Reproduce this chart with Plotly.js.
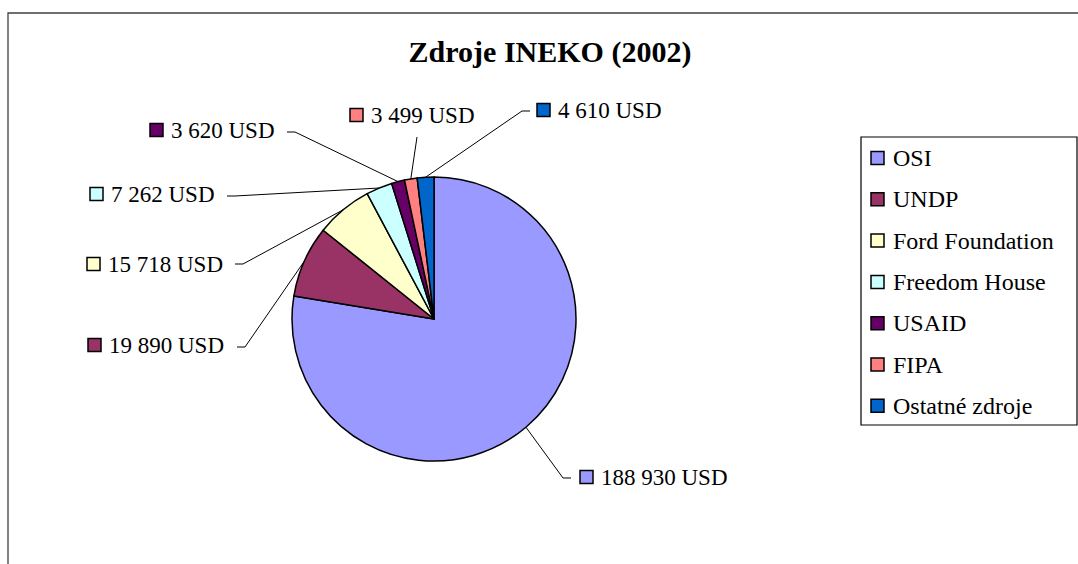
<!DOCTYPE html>
<html><head><meta charset="utf-8">
<script src="https://cdn.plot.ly/plotly-3.0.1.min.js"></script>
<style>html,body{margin:0;padding:0;background:#fff;}#chart{width:1078px;height:564px;}</style>
</head><body><div id="chart"></div>
<script>
// ---- data ----
const categories = ['OSI', 'UNDP', 'Ford Foundation', 'Freedom House', 'USAID', 'FIPA', 'Ostatné zdroje'];
const values = [188930, 19890, 15718, 7262, 3620, 3499, 4610];
const unit = 'USD';
const chartTitle = 'Zdroje INEKO (2002)';

// ---- styles / layout ----
const colors = ['#9999FF', '#993366', '#FFFFCC', '#CCFFFF', '#660066', '#FF8080', '#0066CC'];
const W = 1078, H = 564;
const pieC = [434, 319], pieR = 142;
// label placement (pixel): square left / centre y, leader end point, tick direction
const labelSquare = [[580, 477], [88, 345], [87, 264], [90, 194], [150, 130], [350, 115], [537, 110]];
const leaderEnd = [[563, 478], [245, 347], [243, 264], [235, 196], [295, 132], [417, 137], [522, 111]];
const leaderTick = [8, -8, -8, -8, -8, 0, 8];
const legendBox = [861, 137, 1077, 425];
const legendFirstY = 158, legendStep = 41.3, legendSqX = 871, legendTextX = 891;
const SQ = 13;
const serif = 'Liberation Serif, Times New Roman, serif';

const px = x => x / W;
const py = y => 1 - y / H;
const fmt = v => String(v).replace(/\B(?=(\d{3})+(?!\d))/g, ' ') + ' ' + unit;

const total = values.reduce((a, b) => a + b, 0);
const shapes = [];
const annotations = [];

// outer chart border
shapes.push({type: 'rect', xref: 'paper', yref: 'paper', x0: px(8), x1: px(1100), y0: py(13), y1: py(620),
  line: {color: '#404040', width: 1.3}, fillcolor: 'rgba(0,0,0,0)'});

let cum = 0;
values.forEach((v, i) => {
  const mid = 2 * Math.PI * (cum + v / 2) / total;
  cum += v;
  const ex0 = pieC[0] + pieR * Math.sin(mid);
  const ey0 = pieC[1] - pieR * Math.cos(mid);
  const [ex, ey] = leaderEnd[i];
  shapes.push({type: 'line', xref: 'paper', yref: 'paper', x0: px(ex0), y0: py(ey0), x1: px(ex), y1: py(ey),
    line: {color: '#000', width: 1}});
  if (leaderTick[i] !== 0) {
    shapes.push({type: 'line', xref: 'paper', yref: 'paper', x0: px(ex), y0: py(ey), x1: px(ex + leaderTick[i]), y1: py(ey),
      line: {color: '#000', width: 1}});
  }
  const [sx, sy] = labelSquare[i];
  shapes.push({type: 'rect', xref: 'paper', yref: 'paper', x0: px(sx), x1: px(sx + SQ), y0: py(sy - SQ / 2), y1: py(sy + SQ / 2),
    line: {color: '#000', width: 1.5}, fillcolor: colors[i]});
  annotations.push({xref: 'paper', yref: 'paper', x: px(sx + SQ + 6), y: py(sy), xanchor: 'left', yanchor: 'middle',
    showarrow: false, text: fmt(v), font: {family: serif, size: 23, color: '#000'}});

  // legend
  const ly = legendFirstY + i * legendStep;
  shapes.push({type: 'rect', xref: 'paper', yref: 'paper', x0: px(legendSqX), x1: px(legendSqX + SQ), y0: py(ly - SQ / 2), y1: py(ly + SQ / 2),
    line: {color: '#000', width: 1.5}, fillcolor: colors[i]});
  annotations.push({xref: 'paper', yref: 'paper', x: px(legendTextX), y: py(ly), xanchor: 'left', yanchor: 'middle',
    showarrow: false, text: categories[i], font: {family: serif, size: 24, color: '#000'}});
});

shapes.push({type: 'rect', xref: 'paper', yref: 'paper', x0: px(legendBox[0]), x1: px(legendBox[2]), y0: py(legendBox[1]), y1: py(legendBox[3]),
  line: {color: '#000', width: 1.2}, fillcolor: 'rgba(0,0,0,0)'});

const trace = {
  type: 'pie', labels: categories, values: values, sort: false, direction: 'clockwise', rotation: 0,
  marker: {colors: colors, line: {color: '#000', width: 1.5}},
  textinfo: 'none', hoverinfo: 'none', showlegend: false,
  domain: {x: [px(pieC[0] - pieR), px(pieC[0] + pieR)], y: [py(pieC[1] + pieR), py(pieC[1] - pieR)]}
};

const layout = {
  width: W, height: H, autosize: false,
  margin: {l: 0, r: 0, t: 0, b: 0, pad: 0},
  paper_bgcolor: '#fff', plot_bgcolor: '#fff',
  title: {text: '<b>' + chartTitle + '</b>', x: px(550), xref: 'paper', xanchor: 'center', y: py(51), yref: 'container', yanchor: 'middle',
    font: {family: serif, size: 30, color: '#000'}},
  shapes: shapes, annotations: annotations, showlegend: false
};

Plotly.newPlot('chart', [trace], layout, {staticPlot: true, displayModeBar: false});
</script>
</body></html>
